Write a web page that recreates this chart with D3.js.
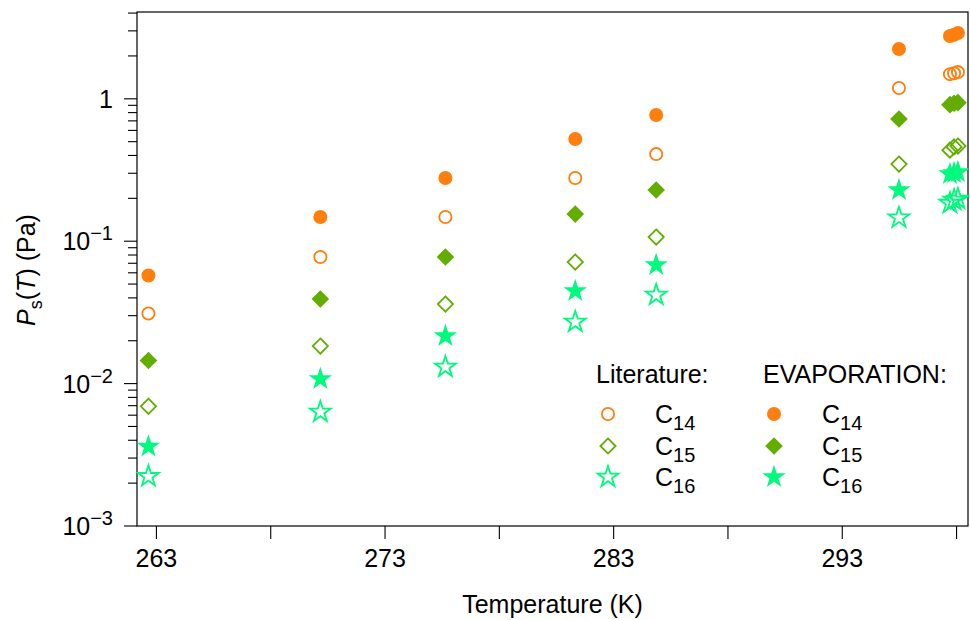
<!DOCTYPE html>
<html>
<head>
<meta charset="utf-8">
<script src="https://cdn.jsdelivr.net/npm/d3@7"></script>
<style>
  body { margin: 0; background: #fff; }
  svg text { font-family: "Liberation Sans", Arial, sans-serif; fill: #000; }
</style>
</head>
<body>
<svg id="chart" width="970" height="620"></svg>
<script>
// temperatures (K) of the measured points
var temps = [262.65, 270.17, 275.64, 281.32, 284.86, 295.48, 297.71, 297.89, 298.06];

// vapour pressure (Pa), literature
var c14Lit = [0.0311, 0.0774, 0.148, 0.278, 0.409, 1.19, 1.49, 1.51, 1.54];
var c15Lit = [0.00693, 0.01836, 0.0362, 0.0714, 0.107, 0.348, 0.436, 0.459, 0.466];
var c16Lit = [0.00223, 0.00632, 0.01309, 0.0271, 0.0419, 0.146, 0.185, 0.1945, 0.198];

// vapour pressure (Pa), evaporation
var c14Evap = [0.0574, 0.148, 0.278, 0.522, 0.769, 2.24, 2.76, 2.82, 2.90];
var c15Evap = [0.01452, 0.0393, 0.0774, 0.155, 0.229, 0.721, 0.91, 0.93, 0.94];
var c16Evap = [0.00361, 0.01076, 0.0216, 0.0446, 0.0681, 0.229, 0.296, 0.301, 0.306];

var xMajor = [263, 268, 273, 278, 283, 288, 293, 298];
var xLabeled = [263, 273, 283, 293];
var yMajor = [1e-3, 1e-2, 1e-1, 1];

var orange = "#ff7f0e", green = "#62ad00", spring = "#00fa7d";

var svg = d3.select("#chart");
var padL = 137, padR = 968, padT = 12, padB = 526;

var x = d3.scaleLinear().domain([262.15, 298.5]).range([padL, padR]);
var y = d3.scaleLog().domain([1e-3, 4.07]).range([padB, padT]);

function diamond(r) {
  return "M0," + (-r) + "L" + r + ",0L0," + r + "L" + (-r) + ",0Z";
}

function star(R) {
  var pts = [];
  for (var k = 0; k < 10; k++) {
    var rr = k % 2 == 0 ? R : R * 0.382;
    var a = -Math.PI / 2 + k * Math.PI / 5;
    pts.push([rr * Math.cos(a), rr * Math.sin(a)]);
  }
  return "M" + pts.map(function(p){ return p[0].toFixed(2) + "," + p[1].toFixed(2); }).join("L") + "Z";
}

// marker styles
var styles = {
  circleOpen:  { path: null, r: 6.1, fill: "none", stroke: orange, sw: 1.8 },
  circleFill:  { path: null, r: 7, fill: orange, stroke: "none", sw: 0 },
  diamondOpen: { path: diamond(7.6), fill: "none", stroke: green, sw: 1.8 },
  diamondFill: { path: diamond(8.8), fill: green, stroke: "none", sw: 0 },
  starOpen:    { path: star(11), fill: "none", stroke: spring, sw: 1.8 },
  starFill:    { path: star(12.3), fill: spring, stroke: "none", sw: 0 }
};

function drawMarker(g, st, cx, cy) {
  if (st.path == null) {
    g.append("circle").attr("cx", cx).attr("cy", cy).attr("r", st.r)
      .attr("fill", st.fill).attr("stroke", st.stroke).attr("stroke-width", st.sw);
  } else {
    g.append("path").attr("d", st.path)
      .attr("transform", "translate(" + cx + "," + cy + ")")
      .attr("fill", st.fill).attr("stroke", st.stroke).attr("stroke-width", st.sw)
      .attr("stroke-linejoin", "miter");
  }
}

// y minor ticks
var yMinor = [];
for (var e = -3; e <= 0; e++) {
  for (var m = 2; m <= 9; m++) {
    var v = m * Math.pow(10, e);
    if (v < 4.07) yMinor.push(v);
  }
}

var axisG = svg.append("g");
axisG.selectAll(".ymin").data(yMinor).enter().append("line")
  .attr("x1", padL - 9).attr("x2", padL)
  .attr("y1", function(d){ return y(d); }).attr("y2", function(d){ return y(d); })
  .attr("stroke", "#000").attr("stroke-width", 1.1);
axisG.selectAll(".ymaj").data(yMajor).enter().append("line")
  .attr("x1", padL - 13).attr("x2", padL)
  .attr("y1", function(d){ return y(d); }).attr("y2", function(d){ return y(d); })
  .attr("stroke", "#000").attr("stroke-width", 1.1);

// y tick labels
yMajor.forEach(function(d) {
  var ex = Math.round(Math.log10(d));
  var t = axisG.append("text").attr("x", padL - 24).attr("y", y(d) + 9)
    .attr("text-anchor", "end").attr("font-size", 25);
  if (ex == 0) {
    t.text("1");
  } else {
    t.append("tspan").text("10");
    t.append("tspan").attr("font-size", 20).attr("dy", -10).text("\u2212" + (-ex));
  }
});

// x ticks
axisG.selectAll(".xmaj").data(xMajor).enter().append("line")
  .attr("x1", function(d){ return x(d); }).attr("x2", function(d){ return x(d); })
  .attr("y1", padB).attr("y2", padB + 13)
  .attr("stroke", "#000").attr("stroke-width", 1.1);
axisG.selectAll(".xlab").data(xLabeled).enter().append("text")
  .attr("x", function(d){ return x(d); }).attr("y", padB + 41)
  .attr("text-anchor", "middle").attr("font-size", 25)
  .text(function(d){ return d; });

// frame
svg.append("rect").attr("x", padL).attr("y", padT)
  .attr("width", padR - padL).attr("height", padB - padT)
  .attr("fill", "none").attr("stroke", "#000").attr("stroke-width", 1.2);

// axis titles
svg.append("text").attr("x", (padL + padR) / 2).attr("y", 613)
  .attr("text-anchor", "middle").attr("font-size", 25).text("Temperature (K)");

var yl = svg.append("text").attr("transform", "translate(35,270) rotate(-90)")
  .attr("text-anchor", "middle").attr("font-size", 25);
yl.append("tspan").attr("font-style", "italic").text("P");
yl.append("tspan").attr("font-size", 18).attr("dy", 7).text("s");
yl.append("tspan").attr("dy", -7).text("(");
yl.append("tspan").attr("font-style", "italic").text("T");
yl.append("tspan").text(") (Pa)");

// data points
var series = [
  { vals: c14Evap, st: styles.circleFill },
  { vals: c14Lit, st: styles.circleOpen },
  { vals: c15Evap, st: styles.diamondFill },
  { vals: c15Lit, st: styles.diamondOpen },
  { vals: c16Evap, st: styles.starFill },
  { vals: c16Lit, st: styles.starOpen }
];
var pts = svg.append("g");
series.forEach(function(s) {
  s.vals.forEach(function(v, i) {
    drawMarker(pts, s.st, x(temps[i]), y(v));
  });
});

// legend
var leg = svg.append("g");
leg.append("text").attr("x", 596).attr("y", 383).attr("font-size", 25).text("Literature:");
leg.append("text").attr("x", 763).attr("y", 383).attr("font-size", 25).text("EVAPORATION:");
var legRows = [
  { sub: "14", lit: styles.circleOpen, evap: styles.circleFill },
  { sub: "15", lit: styles.diamondOpen, evap: styles.diamondFill },
  { sub: "16", lit: styles.starOpen, evap: styles.starFill }
];
var rowY = [414, 446, 477];
legRows.forEach(function(r, i) {
  drawMarker(leg, r.lit, 608, rowY[i]);
  drawMarker(leg, r.evap, 774, rowY[i]);
  [655, 822].forEach(function(tx) {
    var t = leg.append("text").attr("x", tx).attr("y", rowY[i] + 9).attr("font-size", 25);
    t.append("tspan").text("C");
    t.append("tspan").attr("font-size", 20).attr("dy", 7).text(r.sub);
  });
});
</script>
</body>
</html>
